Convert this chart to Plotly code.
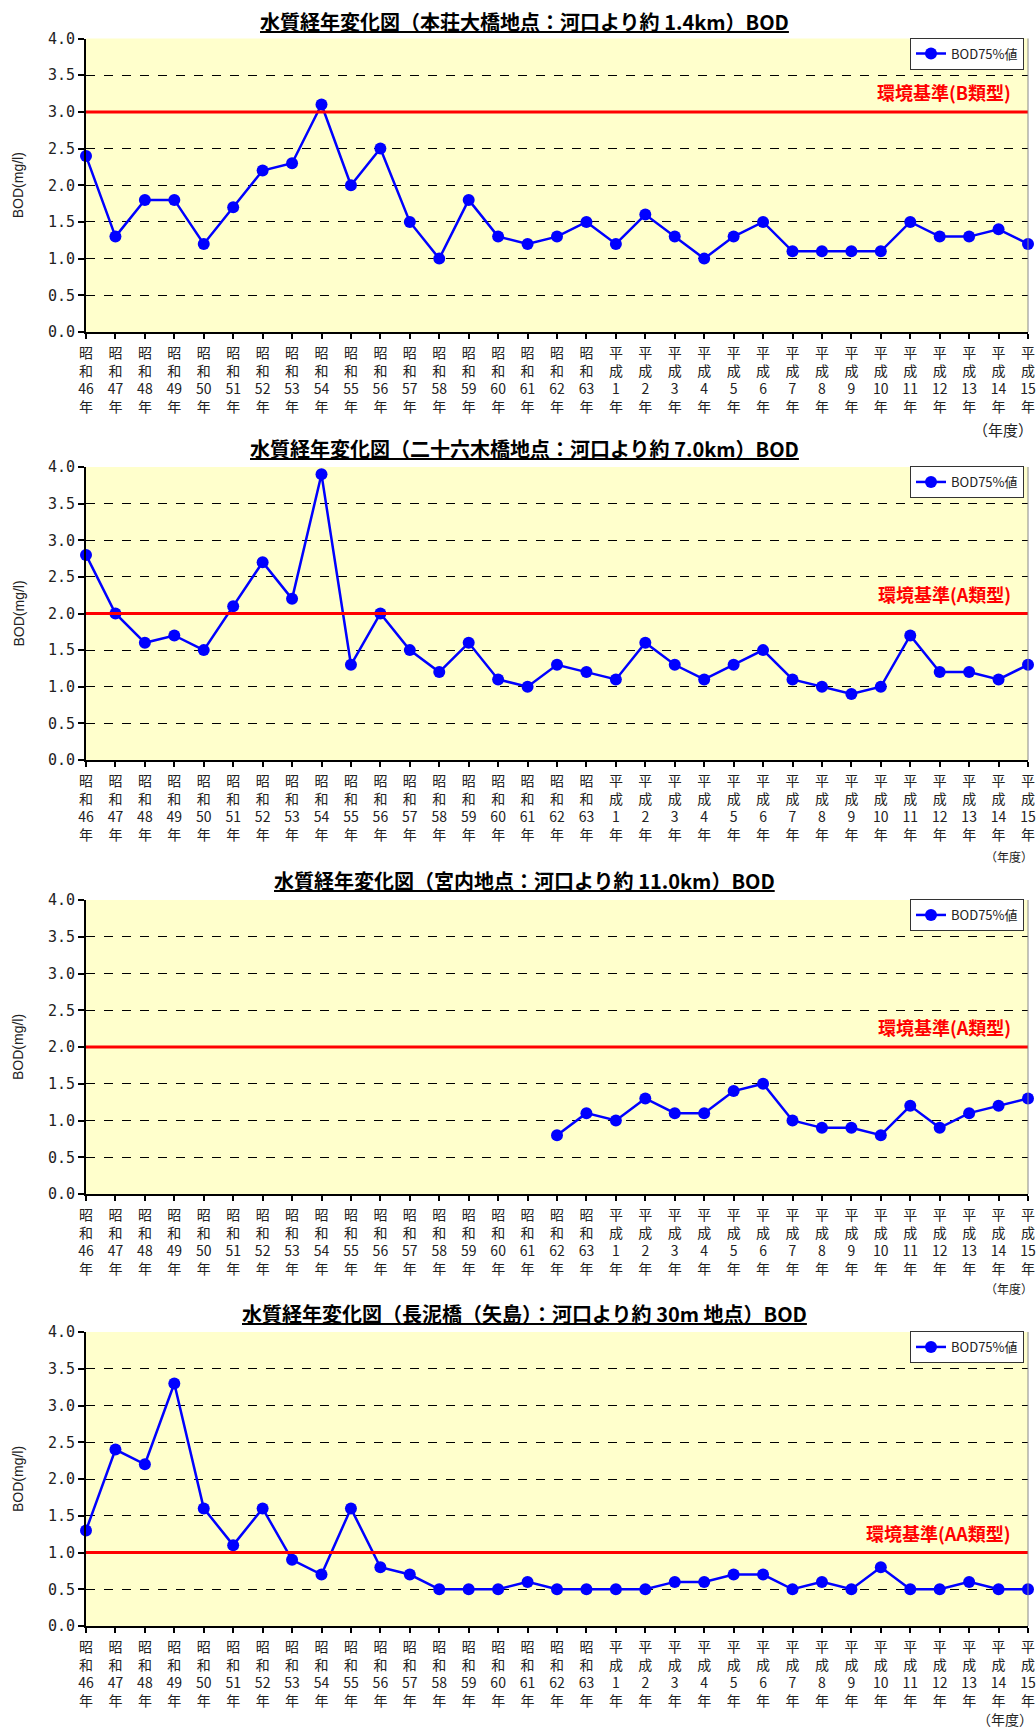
import plotly.graph_objects as go

W, H = 1036, 1731

eras = ["昭<br>和"] * 18 + ["平<br>成"] * 15
years = list(range(46, 64)) + list(range(1, 16))
tick_labels = [f"{e}<br>{y}<br>年" for e, y in zip(eras, years)]

titles = [
    "水質経年変化図（本荘大橋地点：河口より約 1.4km）BOD",
    "水質経年変化図（二十六木橋地点：河口より約 7.0km）BOD",
    "水質経年変化図（宮内地点：河口より約 11.0km）BOD",
    "水質経年変化図（長泥橋（矢島）：河口より約 30m 地点）BOD",
]

bod_honjo = [2.4, 1.3, 1.8, 1.8, 1.2, 1.7, 2.2, 2.3, 3.1, 2.0, 2.5, 1.5, 1.0, 1.8, 1.3, 1.2, 1.3, 1.5,
             1.2, 1.6, 1.3, 1.0, 1.3, 1.5, 1.1, 1.1, 1.1, 1.1, 1.5, 1.3, 1.3, 1.4, 1.2]
bod_todoroki = [2.8, 2.0, 1.6, 1.7, 1.5, 2.1, 2.7, 2.2, 3.9, 1.3, 2.0, 1.5, 1.2, 1.6, 1.1, 1.0, 1.3, 1.2,
                1.1, 1.6, 1.3, 1.1, 1.3, 1.5, 1.1, 1.0, 0.9, 1.0, 1.7, 1.2, 1.2, 1.1, 1.3]
bod_miyauchi = [None] * 16 + [0.8, 1.1,
                1.0, 1.3, 1.1, 1.1, 1.4, 1.5, 1.0, 0.9, 0.9, 0.8, 1.2, 0.9, 1.1, 1.2, 1.3]
bod_nagadoro = [1.3, 2.4, 2.2, 3.3, 1.6, 1.1, 1.6, 0.9, 0.7, 1.6, 0.8, 0.7, 0.5, 0.5, 0.5, 0.6, 0.5, 0.5,
                0.5, 0.5, 0.6, 0.6, 0.7, 0.7, 0.5, 0.6, 0.5, 0.8, 0.5, 0.5, 0.6, 0.5, 0.5]
series = [bod_honjo, bod_todoroki, bod_miyauchi, bod_nagadoro]

standards = [3.0, 2.0, 2.0, 1.0]
standard_labels = ["環境基準(B類型)", "環境基準(A類型)", "環境基準(A類型)", "環境基準(AA類型)"]
legend_name = "BOD75%値"
y_title = "BOD(mg/l)"
nendo = "（年度）"

# layout geometry (page pixels)
panels = [(38.5, 332), (467, 760), (900, 1194), (1332, 1626)]
title_y = [22, 449, 881, 1313]
nendo_y = [430, 856, 1288, 1719]
nendo_size = [15, 12, 12, 14]
x_left, x_right = 86, 1028

fig = go.Figure()
cjk = "Noto Sans CJK JP"
shapes, annots = [], []
xs = list(range(len(tick_labels)))

for i in range(4):
    n = "" if i == 0 else str(i + 1)
    top, bot = panels[i]
    fig.add_trace(go.Scatter(
        x=xs, y=series[i], mode="lines+markers", name=legend_name,
        line=dict(color="#0000FF", width=2.5),
        marker=dict(color="#0000FF", size=12),
        xaxis="x" + n, yaxis="y" + n, legend="legend" + n, showlegend=True,
        connectgaps=False, cliponaxis=False,
    ))
    fig.layout["xaxis" + n] = dict(
        domain=[x_left / W, x_right / W], anchor="y" + n, automargin=False,
        range=[0, len(xs) - 1], tickmode="array", tickvals=xs, ticktext=tick_labels,
        showline=True, linecolor="black", linewidth=2, ticks="outside", ticklen=5,
        tickwidth=2, tickcolor="black", showgrid=False, zeroline=False,
        ticklabelstandoff=2, ticklabeloverflow="allow",
        tickfont=dict(family=cjk, size=14, color="#222"), tickangle=0,
    )
    fig.layout["yaxis" + n] = dict(
        domain=[1 - bot / H, 1 - top / H], anchor="x" + n, automargin=False,
        range=[0, 4], dtick=0.5, tickformat=".1f",
        showline=True, linecolor="black", linewidth=2, ticks="outside", ticklen=6,
        tickwidth=2, tickcolor="black",
        showgrid=True, gridcolor="black", griddash="dash", gridwidth=1, zeroline=False,
        tickfont=dict(family="DejaVu Sans Mono", size=15, color="#222"),
    )
    fig.layout["legend" + n] = dict(
        x=1024 / W, y=1 - (top - 1) / H, xanchor="right", yanchor="top",
        bgcolor="white", bordercolor="#333", borderwidth=1,
        font=dict(family=cjk, size=13, color="#222"),
        itemwidth=30, tracegroupgap=0,
    )
    shapes.append(dict(type="line", xref="x" + n + " domain", x0=0, x1=1,
                       yref="y" + n, y0=standards[i], y1=standards[i],
                       line=dict(color="#FF0000", width=3)))
    shapes.append(dict(type="line", xref="x" + n + " domain", x0=1, x1=1,
                       yref="y" + n + " domain", y0=0, y1=1,
                       line=dict(color="#888", width=1)))
    annots.append(dict(xref="x" + n + " domain", x=0.984, yref="y" + n, y=standards[i],
                       text="<b>" + standard_labels[i] + "</b>", showarrow=False,
                       xanchor="right", yanchor="bottom", yshift=5,
                       font=dict(family=cjk, size=18, color="#FF0000")))
    annots.append(dict(xref="paper", x=524 / W, yref="paper", y=1 - title_y[i] / H,
                       text="<b><u>" + titles[i] + "</u></b>", showarrow=False,
                       xanchor="center", yanchor="middle",
                       font=dict(family=cjk, size=20, color="black")))
    annots.append(dict(xref="paper", x=18 / W, yref="paper", y=1 - (top + bot) / 2 / H,
                       text=y_title, textangle=-90, showarrow=False,
                       xanchor="center", yanchor="middle",
                       font=dict(family="Liberation Sans", size=14, color="#222")))
    annots.append(dict(xref="paper", x=1035 / W, yref="paper", y=1 - nendo_y[i] / H,
                       text=nendo, showarrow=False, xanchor="right", yanchor="middle",
                       font=dict(family=cjk, size=nendo_size[i], color="#222")))

fig.update_layout(
    width=W, height=H, margin=dict(l=0, r=0, t=0, b=0, autoexpand=False),
    paper_bgcolor="white", plot_bgcolor="#FFFFCC",
    shapes=shapes, annotations=annots,
)

fig.write_html(
    "out.html",
    config={"displayModeBar": False},
    post_script="document.body.style.margin='0';document.body.style.overflow='hidden';",
)
